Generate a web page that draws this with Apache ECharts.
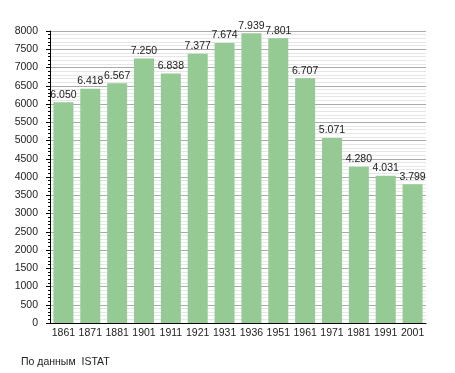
<!DOCTYPE html>
<html><head><meta charset="utf-8">
<script src="https://cdn.jsdelivr.net/npm/echarts@6/dist/echarts.min.js"></script>
<style>html,body{margin:0;padding:0;background:#fff}#c{width:455px;height:373px}</style>
</head><body><div id="c"></div>
<script>
const categories = ['1861','1871','1881','1901','1911','1921','1931','1936','1951','1961','1971','1981','1991','2001'];
const population = [6050,6418,6567,7250,6838,7377,7674,7939,7801,6707,5071,4280,4031,3799];
const yTicks = {min:0, max:8000, interval:500};
const sourceText = 'По данным  ISTAT';

const fmt = v => String(v).replace(/\B(?=(\d{3})+(?!\d))/g, '.');
const chart = echarts.init(document.getElementById('c'), null, {renderer:'canvas'});
chart.setOption({
  animation:false,
  textStyle:{fontFamily:'Liberation Sans, Arial, sans-serif'},
  grid:{left:50, right:29, top:31, bottom:50, containLabel:false},
  graphic:[{type:'text', left:21, top:357, style:{text:sourceText, font:'10.5px "Liberation Sans", Arial, sans-serif', fill:'#222'}}],
  xAxis:{type:'category', data:categories, boundaryGap:true,
    axisLine:{lineStyle:{color:'#000', width:1}}, axisTick:{show:false},
    axisLabel:{color:'#222', fontSize:10.5, margin:5, interval:0}},
  yAxis:{type:'value', min:yTicks.min, max:yTicks.max, interval:yTicks.interval,
    axisLine:{show:true, lineStyle:{color:'#000'}},
    axisTick:{show:true, length:4, lineStyle:{color:'#000'}},
    minorTick:{show:true, splitNumber:5, length:2, lineStyle:{color:'#000'}},
    splitLine:{show:true, lineStyle:{color:'#aaa', width:1}},
    minorSplitLine:{show:true, lineStyle:{color:'#e6e6e6', width:1}},
    axisLabel:{color:'#222', fontSize:10.5, margin:12, formatter:v=>String(v)}},
  series:[{type:'bar', data:population, barWidth:20,
    itemStyle:{color:'#95ca95'},
    label:{show:true, position:'top', distance:2, color:'#222', fontSize:10.5, formatter:p=>fmt(p.value)}}]
});
</script></body></html>
